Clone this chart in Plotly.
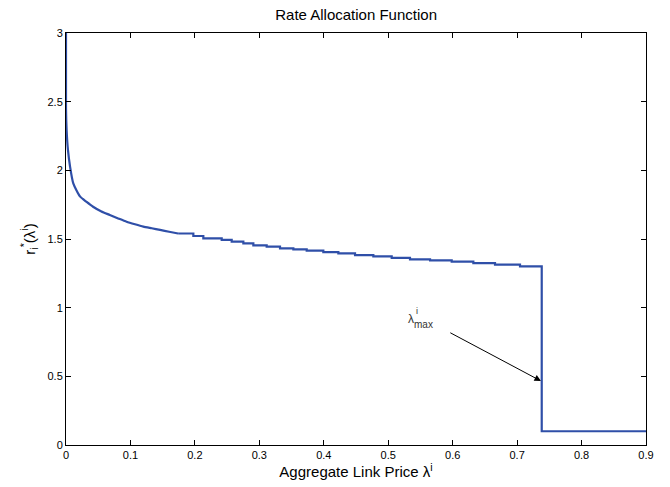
import plotly.graph_objects as go

# Early smooth part of the rate allocation curve
x_early = [0.0, 0.0, 0.001, 0.003, 0.0062, 0.0113, 0.0217, 0.032, 0.042, 0.055, 0.068,
           0.081, 0.094, 0.107, 0.12, 0.133, 0.146, 0.16, 0.174]
y_early = [3.0, 2.45, 2.29, 2.15, 2.03, 1.905, 1.81, 1.77, 1.735, 1.70, 1.675,
           1.65, 1.626, 1.607, 1.59, 1.578, 1.566, 1.553, 1.54]

# Stepped part (step start x, level)
x_steps = [0.174, 0.1976, 0.2131, 0.2416, 0.2571, 0.2752, 0.2907, 0.3114, 0.3321, 0.3528,
           0.3735, 0.3993, 0.4226, 0.4485, 0.4769, 0.5054, 0.5338, 0.5649, 0.5985,
           0.6321, 0.6657, 0.7045]
y_steps = [1.54, 1.522, 1.505, 1.493, 1.481, 1.468, 1.454, 1.444, 1.432, 1.425,
           1.415, 1.405, 1.396, 1.383, 1.374, 1.362, 1.352, 1.345, 1.335,
           1.325, 1.313, 1.301]

# Drop at lambda_max and floor
x_tail = [0.7382, 0.9]
y_tail = [0.1, 0.1]

x_ticks = [0, 0.1, 0.2, 0.3, 0.4, 0.5, 0.6, 0.7, 0.8, 0.9]
x_tick_labels = ["0", "0.1", "0.2", "0.3", "0.4", "0.5", "0.6", "0.7", "0.8", "0.9"]
y_ticks = [0, 0.5, 1, 1.5, 2, 2.5, 3]
y_tick_labels = ["0", "0.5", "1", "1.5", "2", "2.5", "3"]

LINE = dict(color="#2f4fa8", width=2.2)

fig = go.Figure()
fig.add_trace(go.Scatter(x=x_early, y=y_early, mode="lines", line_shape="spline",
                         line=dict(LINE, smoothing=0.6), showlegend=False, hoverinfo="skip"))
fig.add_trace(go.Scatter(x=x_steps + x_tail, y=y_steps + y_tail, mode="lines",
                         line_shape="hv", line=LINE, showlegend=False, hoverinfo="skip"))

FONT = "Liberation Sans, Arial, sans-serif"

axis_common = dict(showline=True, linecolor="black", linewidth=1, mirror="allticks",
                   ticks="inside", ticklen=5, tickcolor="black", tickwidth=1,
                   showgrid=False, zeroline=False,
                   tickfont=dict(family=FONT, size=11, color="black"))

fig.update_xaxes(range=[0, 0.9], tickvals=x_ticks, ticktext=x_tick_labels,
                 title=dict(text="Aggregate Link Price λ<sup>i</sup>",
                            font=dict(family=FONT, size=15, color="black"), standoff=4),
                 **axis_common)
fig.update_yaxes(range=[0, 3], tickvals=y_ticks, ticktext=y_tick_labels,
                 title=dict(text="r<sub>i</sub><sup>*</sup>(λ<sup>i</sup>)",
                            font=dict(family=FONT, size=15, color="black"), standoff=8),
                 **axis_common)

# Arrow pointing at lambda_max
fig.add_annotation(x=0.737, y=0.466, ax=0.594, ay=0.823, xref="x", yref="y",
                   axref="x", ayref="y", text="", showarrow=True, arrowhead=2,
                   arrowsize=1.3, arrowwidth=1, arrowcolor="black", standoff=0)
fig.add_annotation(x=0.536, y=0.92, xref="x", yref="y", text="λ", showarrow=False,
                   font=dict(family=FONT, size=12, color="#333"))
fig.add_annotation(x=0.5445, y=0.975, xref="x", yref="y", text="i", showarrow=False,
                   font=dict(family=FONT, size=9, color="#333"))
fig.add_annotation(x=0.5555, y=0.875, xref="x", yref="y", text="max", showarrow=False,
                   font=dict(family=FONT, size=10, color="#333"))

fig.update_layout(
    width=670, height=487,
    margin=dict(l=66, r=24, t=33, b=42),
    paper_bgcolor="white", plot_bgcolor="white",
    title=dict(text="Rate Allocation Function", x=0.5315, xanchor="center",
               y=0.97, yanchor="middle",
               font=dict(family=FONT, size=15, color="black")),
)

fig.write_html("out.html")
